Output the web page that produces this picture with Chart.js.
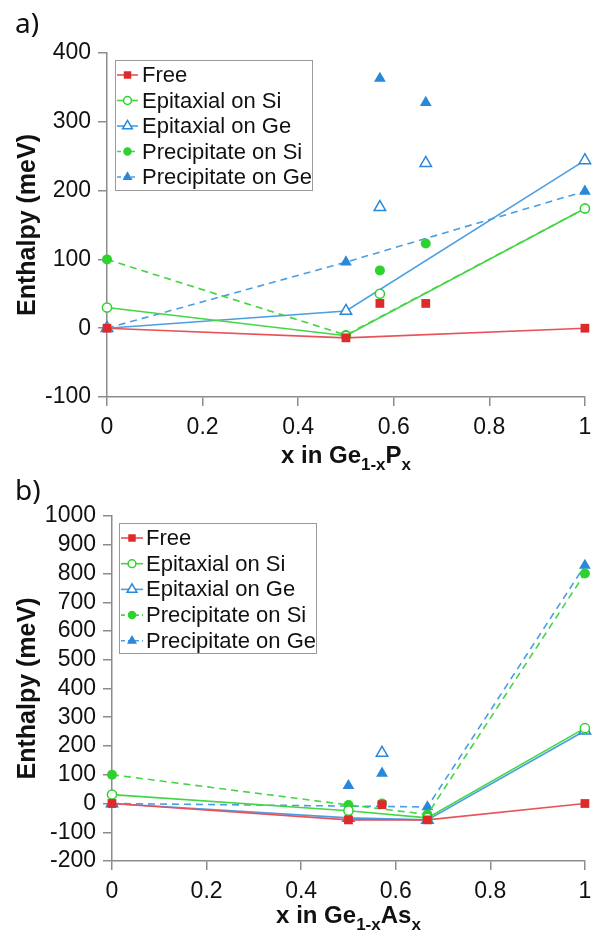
<!DOCTYPE html>
<html><head><meta charset="utf-8">
<script src="https://cdn.jsdelivr.net/npm/chart.js@4.4.1/dist/chart.umd.min.js"></script>
<style>
html,body{margin:0;padding:0;background:#fff;width:593px;height:939px;overflow:hidden}
.box{position:absolute;left:0;width:593px}
.lab{position:absolute;font-family:'Noto Sans',sans-serif;font-size:28px;color:#111;line-height:1}
.xt{position:absolute;font-family:'Liberation Sans',Arial,sans-serif;font-weight:bold;font-size:24px;color:#111;text-align:center;line-height:28px;white-space:nowrap}
.xt span{font-size:17px;position:relative;top:7px}
</style></head><body>
<div class="box" style="top:0;height:465px"><canvas id="c1" width="593" height="465"></canvas></div>
<div class="box" style="top:465px;height:474px"><canvas id="c2" width="593" height="474"></canvas></div>
<div class="lab" style="left:15px;top:8px">a)</div>
<div class="lab" style="left:15px;top:475px">b)</div>
<div class="xt" style="left:107px;width:478px;top:441px">x in Ge<span>1-x</span>P<span>x</span></div>
<div class="xt" style="left:112px;width:473px;top:901px">x in Ge<span>1-x</span>As<span>x</span></div>
<script>
// ---------- Panel a: Ge(1-x)P(x) ----------
const xA_line  = [0, 0.5, 1];
const xA_extra = [0.571, 0.667];
const a_free    = [0, -14, 0];     const a_free_extra    = [36, 36];
const a_epiSi   = [30, -11, 174];  const a_epiSi_extra   = [50, null];
const a_epiGe   = [0, 25, 244];    const a_epiGe_extra   = [176, 240];
const a_precSi  = [100, -10, 174]; const a_precSi_extra  = [84, 123];
const a_precGe  = [0, 96, 199];    const a_precGe_extra  = [363, 328];
const a_yTicks = [-100, 400, 100];

// ---------- Panel b: Ge(1-x)As(x) ----------
const xB_line  = [0, 0.5, 0.667, 1];
const xB_extra = [0.5, 0.571];
const b_free    = [0, -57, -57, 0];     const b_free_extra    = [null, -4];
const b_epiSi   = [31, -25, -50, 262];  const b_epiSi_extra   = [null, null];
const b_epiGe   = [0, -50, -57, 253];   const b_epiGe_extra   = [null, 176];
const b_precSi  = [100, -5, -38, 800];  const b_precSi_extra  = [null, 0];
const b_precGe  = [0, null, -12, 828];  const b_precGe_extra  = [62, 105];
const b_yTicks = [-200, 1000, 100];

const seriesNames = ['Free', 'Epitaxial on Si', 'Epitaxial on Ge', 'Precipitate on Si', 'Precipitate on Ge'];
const xTickStep = 0.2;

// styles
const RED = '#dd2a2a', RED_L = '#e8525a';
const GRN = '#2fd12f', GRN_L = '#45d545';
const BLU = '#2a87d9', BLU_L = '#4a9ee3';
const styles = [
  {shape:'rect',     r:6.2, color:RED, line:RED_L, fill:RED,    dash:false, bw:0},
  {shape:'circle',   r:4.6, color:GRN, line:GRN_L, fill:'#fff', dash:false, bw:1.5},
  {shape:'triangle', r:6.6, color:BLU, line:BLU_L, fill:'#fff', dash:false, bw:1.5},
  {shape:'circle',   r:5.0, color:GRN, line:GRN_L, fill:GRN,    dash:true,  bw:0},
  {shape:'triangle', r:6.8, color:BLU, line:BLU_L, fill:BLU,    dash:true,  bw:0}
];

function build(xLine, xExtra, lines, extras) {
  const ds = [];
  lines.forEach((vals, i) => {
    const s = styles[i];
    const common = {
      pointStyle: s.shape, pointRadius: s.r, pointHoverRadius: s.r,
      pointBackgroundColor: s.fill, pointBorderColor: s.color, pointBorderWidth: s.bw,
      backgroundColor: s.fill, clip: false
    };
    ds.push(Object.assign({
      label: seriesNames[i], showInLegend: true,
      data: xLine.map((x, k) => ({x: x, y: vals[k]})),
      showLine: true, spanGaps: true,
      borderColor: s.line, borderWidth: 1.6, borderDash: s.dash ? [7, 5] : []
    }, common));
    ds.push(Object.assign({
      label: seriesNames[i] + ' (other)', showInLegend: false,
      data: xExtra.map((x, k) => ({x: x, y: extras[i][k]})),
      showLine: false, borderColor: s.color
    }, common));
  });
  return ds;
}

const boxLegend = {
  id: 'boxLegend',
  afterDatasetsDraw(chart, args, o) {
    const ctx = chart.ctx;
    ctx.save();
    ctx.fillStyle = '#fff';
    ctx.fillRect(o.x, o.y, o.w, o.h);
    ctx.strokeStyle = '#9a9a9a'; ctx.lineWidth = 1;
    ctx.strokeRect(o.x + 0.5, o.y + 0.5, o.w, o.h);
    let row = 0;
    chart.data.datasets.forEach(d => {
      if (!d.showInLegend) return;
      const cy = o.y0 + row * o.gap;
      ctx.setLineDash(d.borderDash && d.borderDash.length ? [4, 3] : []);
      ctx.strokeStyle = d.borderColor; ctx.lineWidth = d.borderWidth;
      ctx.beginPath(); ctx.moveTo(o.lx0, cy); ctx.lineTo(o.lx1, cy); ctx.stroke();
      ctx.setLineDash([]);
      ctx.fillStyle = d.pointBackgroundColor; ctx.strokeStyle = d.pointBorderColor;
      ctx.lineWidth = d.pointBorderWidth;
      Chart.helpers.drawPoint(ctx, {pointStyle: d.pointStyle, radius: d.pointRadius * 0.85, rotation: 0, borderWidth: d.pointBorderWidth}, (o.lx0 + o.lx1) / 2, cy);
      ctx.fillStyle = '#111';
      ctx.font = o.fontSize + 'px "Liberation Sans", Arial, sans-serif';
      ctx.textBaseline = 'middle'; ctx.textAlign = 'left';
      ctx.fillText(d.label, o.tx, cy + 1);
      row++;
    });
    ctx.restore();
  }
};

const fmt = v => String(Math.round(v * 100) / 100);
const AX = '#8c8c8c';

function makeChart(id, datasets, yT, yWidth, xHeight, padTop, legendOpts) {
  return new Chart(document.getElementById(id), {
    type: 'scatter',
    data: {datasets: datasets},
    options: {
      responsive: false, animation: false, devicePixelRatio: 1,
      layout: {padding: {top: padTop, right: 8, bottom: 0, left: 0}},
      plugins: {legend: {display: false}, tooltip: {enabled: false}, boxLegend: legendOpts},
      scales: {
        x: {
          type: 'linear', min: 0, max: 1, position: 'bottom',
          ticks: {stepSize: xTickStep, callback: fmt, color: '#111', padding: 8, maxRotation: 0, autoSkip: false,
                  font: {family: 'Liberation Sans', size: 23}},
          grid: {drawOnChartArea: false, drawTicks: true, tickLength: 9, color: AX, lineWidth: 1.5},
          border: {display: true, color: AX, width: 1.5},
          afterFit: s => { s.height = xHeight; s.paddingLeft = 0; s.paddingRight = 0; }
        },
        y: {
          type: 'linear', min: yT[0], max: yT[1], position: 'left',
          ticks: {stepSize: yT[2], callback: fmt, color: '#111', padding: 7, autoSkip: false,
                  font: {family: 'Liberation Sans', size: 23}},
          grid: {drawOnChartArea: false, drawTicks: true, tickLength: 9, color: AX, lineWidth: 1.5},
          border: {display: true, color: AX, width: 1.5},
          title: {display: true, text: 'Enthalpy (meV)', color: '#111', padding: {top: 13, bottom: 0},
                  font: {family: 'Liberation Sans', size: 25, weight: 'bold'}},
          afterFit: s => { s.width = yWidth; s.paddingTop = 0; s.paddingBottom = 0; }
        }
      }
    },
    plugins: [boxLegend]
  });
}

makeChart('c1',
  build(xA_line, xA_extra, [a_free, a_epiSi, a_epiGe, a_precSi, a_precGe],
        [a_free_extra, a_epiSi_extra, a_epiGe_extra, a_precSi_extra, a_precGe_extra]),
  a_yTicks, 107, 68, 53,
  {x: 115, y: 60, w: 197, h: 130, y0: 75, gap: 25.5, lx0: 117, lx1: 138, tx: 142, fontSize: 22});

makeChart('c2',
  build(xB_line, xB_extra, [b_free, b_epiSi, b_epiGe, b_precSi, b_precGe],
        [b_free_extra, b_epiSi_extra, b_epiGe_extra, b_precSi_extra, b_precGe_extra]),
  b_yTicks, 112, 78, 51,
  {x: 119, y: 58, w: 197, h: 130, y0: 73, gap: 25.7, lx0: 121, lx1: 143, tx: 146, fontSize: 22});
</script>
</body></html>
